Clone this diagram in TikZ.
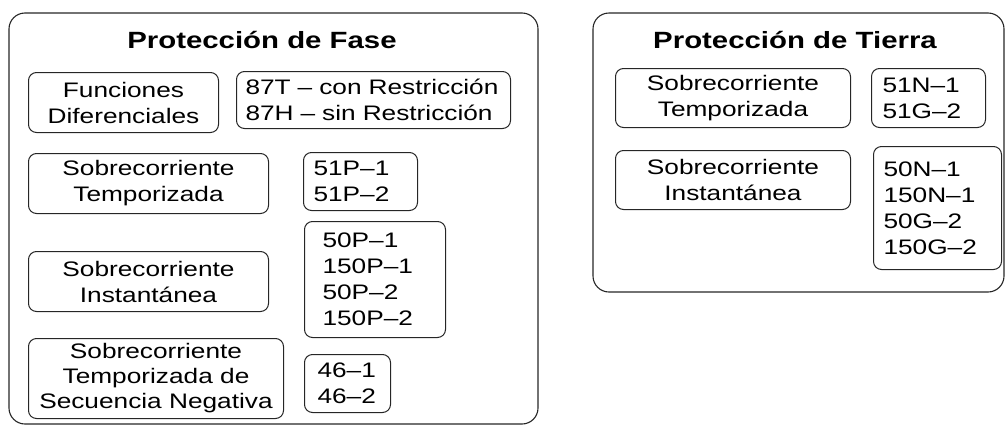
\documentclass[tikz,border=0pt]{standalone}
\usepackage{fontspec}
\setmainfont{Liberation Sans}[FakeStretch=1.25]
\usepackage{tikz}

\tikzset{
  grupo/.style={draw=black!85, line width=1.1pt, rounded corners=16pt},
  titulo/.style={font=\fontsize{23.5}{28}\selectfont\bfseries},
  funcion/.style={draw=black!85, line width=1pt, rounded corners=8pt, align=center,
    inner sep=0pt, anchor=north west, font=\fontsize{21}{26}\selectfont},
  codigo/.style={draw=black!85, line width=1pt, rounded corners=8pt, align=left,
    inner ysep=0pt, anchor=north west, font=\fontsize{21}{26}\selectfont}
}

\begin{document}
\begin{tikzpicture}[x=1pt,y=-1pt]
\useasboundingbox (0,0) rectangle (1007,426);
\draw[grupo] (9,13) rectangle (538,424);
\draw[grupo] (593,13) rectangle (1004,292);
\node[titulo] (tfase) at (262,40) {Protección de Fase};
\node[titulo] (ttierra) at (795,40) {Protección de Tierra};

\node[funcion, minimum width=190pt, minimum height=60pt] (dif) at (28,72) {Funciones\\Diferenciales};
\node[codigo, inner xsep=9pt, text width=256pt, minimum height=57pt] (cdif) at (236,71) {87T – con Restricción\\87H – sin Restricción};
\node[funcion, minimum width=240pt, minimum height=60pt] (tempf) at (28,153) {Sobrecorriente\\Temporizada};
\node[codigo, inner xsep=10pt, text width=94pt, minimum height=58pt] (ctempf) at (303,152) {51P–1\\51P–2};
\node[funcion, minimum width=240pt, minimum height=60pt] (instf) at (28,251) {Sobrecorriente\\Instantánea};
\node[codigo, inner xsep=18pt, text width=105pt, minimum height=116pt] (cinstf) at (304,221) {50P–1\\150P–1\\50P–2\\150P–2};
\node[funcion, minimum width=255pt, minimum height=80pt, font=\fontsize{21}{25}\selectfont] (neg) at (28,338) {Sobrecorriente\\Temporizada de\\Secuencia Negativa};
\node[codigo, inner xsep=13pt, text width=60pt, minimum height=58pt] (cneg) at (304,354) {46–1\\46–2};

\node[funcion, minimum width=235pt, minimum height=59pt] (tempt) at (615,68) {Sobrecorriente\\Temporizada};
\node[codigo, inner xsep=11pt, text width=92pt, minimum height=59pt] (ctempt) at (871,68) {51N–1\\51G–2};
\node[funcion, minimum width=235pt, minimum height=59pt] (instt) at (615,150) {Sobrecorriente\\Instantánea};
\node[codigo, inner xsep=10pt, text width=108pt, minimum height=123pt] (cinstt) at (873,146) {50N–1\\150N–1\\50G–2\\150G–2};
\end{tikzpicture}
\end{document}
